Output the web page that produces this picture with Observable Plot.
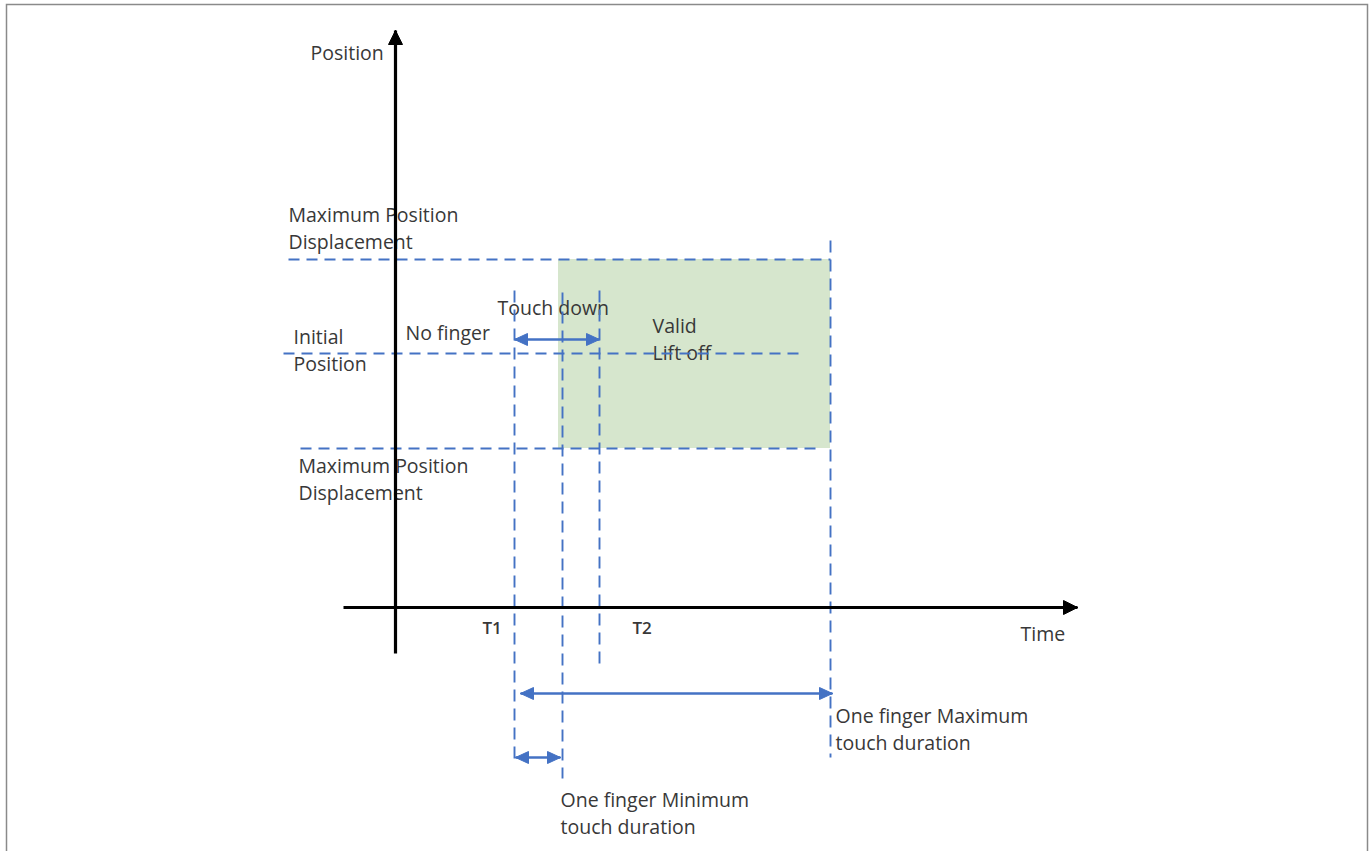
<!DOCTYPE html>
<html>
<head>
<meta charset="utf-8">
<script src="https://cdn.jsdelivr.net/npm/d3@7"></script>
<script src="https://cdn.jsdelivr.net/npm/@observablehq/plot@0.6"></script>
<style>
  html, body { margin: 0; padding: 0; background: #fff; overflow: hidden; }
  #chart svg { display: block; }
</style>
</head>
<body>
<div id="chart"></div>
<script>
// ---- Data (time units along x, position units along y; origin = axes crossing) ----
const levelNames  = ["Maximum Position Displacement (upper)", "Initial Position", "Maximum Position Displacement (lower)"];
const levelValues = [348, 254, 159];
const levelStart  = [-107, -112, -95];
const levelEnd    = [435, 405, 425];

const timeNames   = ["T1", "Minimum duration end", "T2", "Maximum duration end"];
const timeValues  = [119, 167, 204, 435];
const timeTop     = [317, 315, 317, 367];
const timeBottom  = [-158, -171, -63, -150];

const zoneTime     = [163, 435];   // valid lift-off window (time)
const zonePosition = [159, 348];   // valid lift-off window (position)

const spanNames  = ["Touch down", "One finger Maximum touch duration", "One finger Minimum touch duration"];
const spanStart  = [119, 125, 120];
const spanEnd    = [204, 437, 165];
const spanLevel  = [268, -86, -150];

const timeAxisExtent     = [-52, 682];
const positionAxisExtent = [-46, 577];

const labelTexts = ["Position", "Maximum Position\nDisplacement", "Initial\nPosition", "No finger",
                    "Touch down", "Valid\nLift off", "Maximum Position\nDisplacement",
                    "T1", "T2", "Time", "One finger Maximum\ntouch duration", "One finger Minimum\ntouch duration"];
const labelTime  = [-85, -107, -102, 10, 102, 257, -97, 87, 237, 625, 440, 165];
const labelPos   = [567, 405, 283, 287, 312, 294, 154, -14, -14, -14, -96, -180];
const labelBold  = [false, false, false, false, false, false, false, true, true, false, false, false];

// ---- Build tables ----
const levels = levelNames.map((n, i) => ({name: n, pos: levelValues[i], t1: levelStart[i], t2: levelEnd[i]}));
const times = timeNames.map((n, i) => ({name: n, t: timeValues[i], p1: timeTop[i], p2: timeBottom[i]}));
const spans = spanNames.map((n, i) => ({name: n, t1: spanStart[i], t2: spanEnd[i], pos: spanLevel[i]}));
const labels = labelTexts.map((s, i) => ({text: s, t: labelTime[i], pos: labelPos[i], bold: labelBold[i]}));
const axes = [
  {name: "time", x1: timeAxisExtent[0], y1: 0, x2: timeAxisExtent[1], y2: 0},
  {name: "position", x1: 0, y1: positionAxisExtent[0], x2: 0, y2: positionAxisExtent[1]}
];

// arrowhead triangles derived from segment endpoints (1 unit = 1 px on both scales)
function head(id, tx, ty, dx, dy, len, half) {
  const bx = tx - dx * len, by = ty - dy * len;
  const px = -dy, py = dx;
  return [
    {id, x: tx, y: ty},
    {id, x: bx + px * half, y: by + py * half},
    {id, x: bx - px * half, y: by - py * half},
    {id, x: tx, y: ty}
  ];
}
const blueHeads = spans.flatMap((s, i) => [
  ...head("s" + i + "a", s.t1, s.pos, -1, 0, 13, 6),
  ...head("s" + i + "b", s.t2, s.pos, 1, 0, 13, 6)
]);
const axisHeads = [
  ...head("ax", axes[0].x2, 0, 1, 0, 14, 7),
  ...head("ay", 0, axes[1].y2, 0, 1, 14, 7)
];

const blue = "#4472c4";
const textColor = "#383838";
const font = "'Open Sans', sans-serif";

const chart = Plot.plot({
  width: 1370,
  height: 851,
  margin: 0,
  x: {domain: [-395, 975], axis: null},
  y: {domain: [-244, 607], axis: null},
  style: {fontFamily: font, background: "#fff"},
  marks: [
    Plot.frame({stroke: "#8a8a8a", strokeWidth: 1.5, insetLeft: 6, insetTop: 4, insetRight: 3, insetBottom: -6}),
    Plot.rect([{}], {x1: zoneTime[0], x2: zoneTime[1], y1: zonePosition[0], y2: zonePosition[1], fill: "#d6e6cd"}),
    Plot.text(labels.filter(d => !d.bold), {
      x: "t", y: "pos", text: "text", textAnchor: "start", lineAnchor: "top",
      fontSize: 19.5, lineHeight: 27 / 19.5, fill: textColor
    }),
    Plot.text(labels.filter(d => d.bold), {
      x: "t", y: "pos", text: "text", textAnchor: "start", lineAnchor: "top",
      fontSize: 17, fontWeight: 600, fill: textColor
    }),
    Plot.link(levels, {x1: "t1", x2: "t2", y1: "pos", y2: "pos", stroke: blue, strokeWidth: 1.9, strokeDasharray: "11,7"}),
    Plot.link(times, {x1: "t", x2: "t", y1: "p1", y2: "p2", stroke: blue, strokeWidth: 1.9, strokeDasharray: "12,7"}),
    Plot.link(spans, {x1: "t1", x2: "t2", y1: "pos", y2: "pos", stroke: blue, strokeWidth: 2.4}),
    Plot.line(blueHeads, {x: "x", y: "y", z: "id", fill: blue, stroke: blue, strokeWidth: 1}),
    Plot.link(axes, {x1: "x1", y1: "y1", x2: "x2", y2: "y2", stroke: "#000", strokeWidth: 3.2}),
    Plot.line(axisHeads, {x: "x", y: "y", z: "id", fill: "#000", stroke: "#000", strokeWidth: 1})
  ]
});
document.getElementById("chart").appendChild(chart);
</script>
</body>
</html>
